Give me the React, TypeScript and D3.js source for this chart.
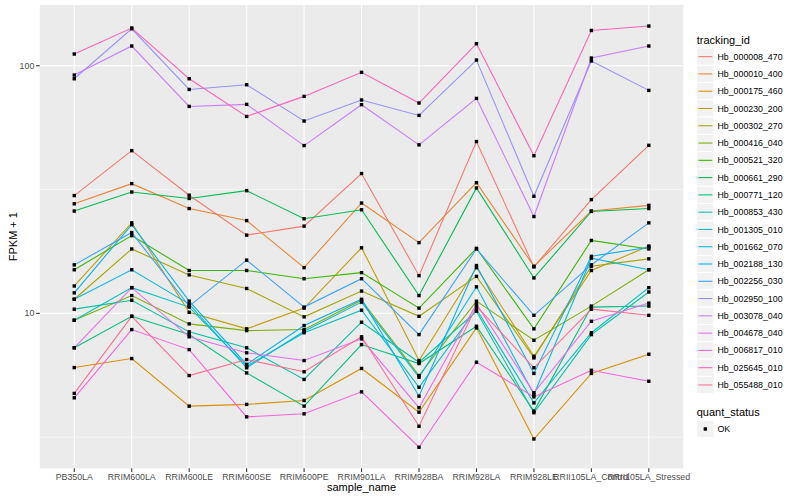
import React from 'react';
import * as d3 from 'd3';

// sample columns
const samples = [
  'PB350LA', 'RRIM600LA', 'RRIM600LE', 'RRIM600SE', 'RRIM600PE', 'RRIM901LA',
  'RRIM928BA', 'RRIM928LA', 'RRIM928LE', 'RRII105LA_Control', 'RRII105LA_Stressed',
];

const trackingIds = [
  'Hb_000008_470', 'Hb_000010_400', 'Hb_000175_460', 'Hb_000230_200', 'Hb_000302_270',
  'Hb_000416_040', 'Hb_000521_320', 'Hb_000661_290', 'Hb_000771_120', 'Hb_000853_430',
  'Hb_001305_010', 'Hb_001662_070', 'Hb_002188_130', 'Hb_002256_030', 'Hb_002950_100',
  'Hb_003078_040', 'Hb_004678_040', 'Hb_006817_010', 'Hb_025645_010', 'Hb_055488_010',
];

// FPKM + 1, one value per sample
const hb000008 = [29.9, 45.4, 30.0, 20.7, 22.5, 36.7, 14.2, 49.4, 15.4, 28.8, 47.7];
const hb000010 = [27.7, 33.4, 26.5, 23.7, 15.3, 27.9, 19.3, 33.7, 15.5, 25.9, 27.3];
const hb000175 = [6.04, 6.57, 4.22, 4.29, 4.45, 5.99, 3.99, 8.74, 3.11, 5.72, 6.84];
const hb000230 = [12.9, 23.2, 10.1, 8.66, 10.5, 18.4, 6.45, 15.3, 6.71, 14.9, 18.7];
const hb000302 = [11.4, 18.2, 14.3, 12.6, 9.68, 12.3, 9.73, 14.1, 6.61, 15.5, 16.6];
const hb000416 = [9.38, 11.8, 9.07, 8.52, 8.60, 11.3, 5.61, 11.2, 7.79, 10.7, 15.0];
const hb000521 = [15.0, 20.6, 14.9, 14.9, 13.8, 14.6, 10.5, 18.3, 8.66, 19.7, 18.2];
const hb000661 = [25.9, 30.9, 29.1, 31.3, 24.1, 26.2, 11.8, 32.1, 13.9, 25.8, 26.5];
const hb000771 = [7.26, 9.73, 8.21, 5.75, 4.22, 7.48, 6.27, 8.87, 4.03, 10.6, 10.7];
const hb000853 = [10.4, 11.3, 8.42, 7.26, 5.41, 9.21, 6.35, 10.2, 3.97, 8.21, 12.2];
const hb001305 = [9.38, 12.7, 10.6, 6.12, 8.35, 10.3, 5.03, 10.4, 4.35, 8.35, 12.7];
const hb001662 = [11.4, 15.0, 10.9, 6.03, 8.47, 11.1, 5.52, 12.8, 4.70, 16.7, 15.0];
const hb002188 = [12.1, 22.8, 11.2, 6.22, 8.93, 11.4, 4.63, 15.6, 5.72, 17.0, 18.5];
const hb002256 = [15.7, 21.2, 10.7, 16.4, 10.6, 13.8, 8.21, 18.2, 9.82, 15.7, 23.2];
const hb002950 = [88.6, 141, 80.2, 83.8, 59.8, 72.7, 63.0, 105.4, 29.7, 104.5, 79.5];
const hb003078 = [91.7, 120.1, 68.5, 69.8, 47.6, 69.6, 47.9, 73.8, 24.6, 107.4, 120.1];
const hb004678 = [7.26, 12.7, 8.04, 6.93, 6.45, 7.89, 4.16, 10.9, 4.78, 9.29, 11.0];
const hb006817 = [4.56, 8.60, 7.14, 3.82, 3.93, 4.82, 2.88, 6.35, 4.60, 5.89, 5.32];
const hb025645 = [111.5, 142, 88.6, 62.4, 75.2, 94.0, 70.7, 122.7, 43.3, 138.8, 144.6];
const hb055488 = [4.75, 9.73, 5.61, 6.51, 5.81, 8.04, 3.50, 10.7, 6.03, 10.4, 9.82];

const seriesValues = [
  hb000008, hb000010, hb000175, hb000230, hb000302, hb000416, hb000521, hb000661, hb000771, hb000853,
  hb001305, hb001662, hb002188, hb002256, hb002950, hb003078, hb004678, hb006817, hb025645, hb055488,
];

// ggplot2 default hue palette for 20 levels
const colors = [
  '#F8766D', '#EA8331', '#D89000', '#C09B00', '#A3A500', '#7CAE00', '#39B600', '#00BB4E', '#00BF7D', '#00C1A3',
  '#00BFC4', '#00BAE0', '#00B0F6', '#35A2FF', '#9590FF', '#C77CFF', '#E76BF3', '#FA62DB', '#FF62BC', '#FF6C91',
];

const yTicks = [10, 100];
const yMinor = [Math.pow(10, 0.5), Math.pow(10, 1.5)];

const W = 800;
const H = 500;
const panel = { left: 39.8, right: 683.3, top: 5, bottom: 468.3 };
const font = '"Liberation Sans", Arial, Helvetica, sans-serif';

export default function App() {
  const x = d3.scalePoint<string>()
    .domain(samples)
    .range([panel.left, panel.right])
    .padding(0.6);

  const all = d3.merge<number>(seriesValues);
  const lo = Math.log10(d3.min(all) ?? 1);
  const hi = Math.log10(d3.max(all) ?? 100);
  const pad = (hi - lo) * 0.05;
  const y = d3.scaleLog()
    .domain([Math.pow(10, lo - pad), Math.pow(10, hi + pad)])
    .range([panel.bottom, panel.top]);

  const line = d3.line<number>()
    .x((_, i) => x(samples[i]) ?? 0)
    .y(d => y(d));

  const keyH = 17.28;
  const legendX = 696.7;
  const keyTop = 48;

  return (
    <svg width={W} height={H} style={{ position: 'absolute', left: 0, top: 0, background: '#fff' }} fontFamily={font}>
      {/* panel */}
      <rect x={panel.left} y={panel.top} width={panel.right - panel.left} height={panel.bottom - panel.top} fill="#EBEBEB" />
      {yMinor.map(v => (
        <line key={'mn' + v} x1={panel.left} x2={panel.right} y1={y(v)} y2={y(v)} stroke="#fff" strokeWidth={0.55} />
      ))}
      {yTicks.map(v => (
        <line key={'mj' + v} x1={panel.left} x2={panel.right} y1={y(v)} y2={y(v)} stroke="#fff" strokeWidth={1.07} />
      ))}
      {samples.map(s => (
        <line key={'gx' + s} x1={x(s)} x2={x(s)} y1={panel.top} y2={panel.bottom} stroke="#fff" strokeWidth={1.07} />
      ))}

      {/* lines */}
      {seriesValues.map((vals, i) => (
        <path key={'l' + i} d={line(vals) ?? ''} fill="none" stroke={colors[i]} strokeWidth={1.07} />
      ))}
      {/* points */}
      {seriesValues.map((vals, i) => vals.map((v, j) => (
        <rect key={'p' + i + '-' + j} x={(x(samples[j]) ?? 0) - 1.7} y={y(v) - 1.7} width={3.4} height={3.4} fill="#000" />
      )))}

      {/* y axis */}
      {yTicks.map(v => (
        <g key={'yt' + v}>
          <line x1={panel.left - 3.7} x2={panel.left} y1={y(v)} y2={y(v)} stroke="#333" strokeWidth={1.07} />
          <text x={panel.left - 5.5} y={y(v)} dy="0.35em" textAnchor="end" fontSize={8.8} fill="#4D4D4D">{v}</text>
        </g>
      ))}
      <text transform={`translate(13,${(panel.top + panel.bottom) / 2}) rotate(-90)`} textAnchor="middle" dy="0.35em" fontSize={11} fill="#000">FPKM + 1</text>

      {/* x axis */}
      {samples.map(s => (
        <g key={'xt' + s}>
          <line x1={x(s)} x2={x(s)} y1={panel.bottom} y2={panel.bottom + 3.7} stroke="#333" strokeWidth={1.07} />
          <text x={x(s)} y={panel.bottom + 12} textAnchor="middle" fontSize={8.8} fill="#4D4D4D">{s}</text>
        </g>
      ))}
      <text x={(panel.left + panel.right) / 2} y={491} textAnchor="middle" fontSize={11} fill="#000">sample_name</text>

      {/* legend: tracking_id */}
      <text x={legendX} y={44} fontSize={11} fill="#000">tracking_id</text>
      {trackingIds.map((id, i) => {
        const cy = keyTop + keyH * i + keyH / 2;
        return (
          <g key={'lg' + id}>
            <rect x={legendX} y={cy - keyH / 2} width={keyH} height={keyH} fill="#F2F2F2" stroke="#fff" strokeWidth={1} />
            <line x1={legendX + 1.7} x2={legendX + keyH - 1.7} y1={cy} y2={cy} stroke={colors[i]} strokeWidth={1.07} />
            <text x={legendX + keyH + 3.5} y={cy} dy="0.35em" fontSize={8.8} fill="#000">{id}</text>
          </g>
        );
      })}

      {/* legend: quant_status */}
      <text x={legendX} y={416} fontSize={11} fill="#000">quant_status</text>
      <rect x={legendX} y={429 - keyH / 2} width={keyH} height={keyH} fill="#F2F2F2" stroke="#fff" strokeWidth={1} />
      <rect x={legendX + keyH / 2 - 1.7} y={429 - 1.7} width={3.4} height={3.4} fill="#000" />
      <text x={legendX + keyH + 3.5} y={429} dy="0.35em" fontSize={8.8} fill="#000">OK</text>
    </svg>
  );
}
